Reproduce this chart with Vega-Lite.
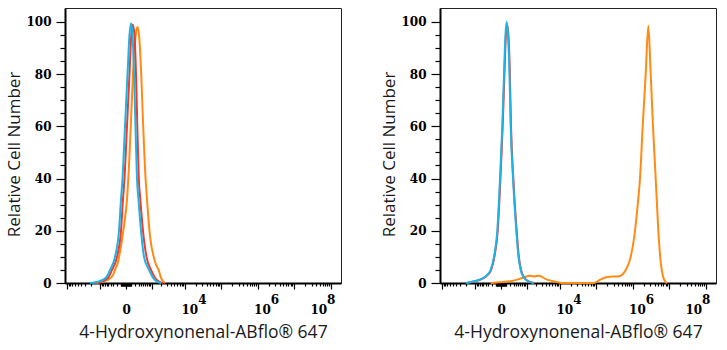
{
  "$schema": "https://vega.github.io/schema/vega-lite/v6.json",
  "padding": {"left": 5, "top": 7, "right": 2, "bottom": 5},
  "background": "white",
  "spacing": 36,
  "config": {
    "view": {"stroke": "#222", "strokeWidth": 1},
    "axis": {
      "grid": false,
      "domainColor": "black",
      "domainWidth": 2,
      "tickColor": "black",
      "tickWidth": 1.2,
      "labelFont": "DejaVu Serif",
      "labelFontWeight": "bold",
      "labelFontSize": 12,
      "labelColor": "black",
      "labelOverlap": false,
      "labelFlush": false,
      "titleFont": "Open Sans",
      "titleFontWeight": "normal",
      "titleColor": "#1a1a1a"
    }
  },
  "data": {
    "values": [
      {"p": "A", "s": "4-HNE antibody", "x": -1399, "y": 0},
      {"p": "A", "s": "4-HNE antibody", "x": -879, "y": 0.5},
      {"p": "A", "s": "4-HNE antibody", "x": -476, "y": 1.5},
      {"p": "A", "s": "4-HNE antibody", "x": -315, "y": 3},
      {"p": "A", "s": "4-HNE antibody", "x": -248, "y": 5},
      {"p": "A", "s": "4-HNE antibody", "x": -163, "y": 8},
      {"p": "A", "s": "4-HNE antibody", "x": -107, "y": 12.6},
      {"p": "A", "s": "4-HNE antibody", "x": -33, "y": 22},
      {"p": "A", "s": "4-HNE antibody", "x": 16, "y": 32},
      {"p": "A", "s": "4-HNE antibody", "x": 52, "y": 45},
      {"p": "A", "s": "4-HNE antibody", "x": 92, "y": 62},
      {"p": "A", "s": "4-HNE antibody", "x": 138, "y": 80},
      {"p": "A", "s": "4-HNE antibody", "x": 190, "y": 92},
      {"p": "A", "s": "4-HNE antibody", "x": 233, "y": 97},
      {"p": "A", "s": "4-HNE antibody", "x": 271, "y": 98},
      {"p": "A", "s": "4-HNE antibody", "x": 315, "y": 95},
      {"p": "A", "s": "4-HNE antibody", "x": 391, "y": 82},
      {"p": "A", "s": "4-HNE antibody", "x": 476, "y": 62},
      {"p": "A", "s": "4-HNE antibody", "x": 574, "y": 44},
      {"p": "A", "s": "4-HNE antibody", "x": 685, "y": 32},
      {"p": "A", "s": "4-HNE antibody", "x": 879, "y": 18},
      {"p": "A", "s": "4-HNE antibody", "x": 1175, "y": 10},
      {"p": "A", "s": "4-HNE antibody", "x": 1399, "y": 7},
      {"p": "A", "s": "4-HNE antibody", "x": 1704, "y": 5},
      {"p": "A", "s": "4-HNE antibody", "x": 2008, "y": 2},
      {"p": "A", "s": "4-HNE antibody", "x": 2312, "y": 0.7},
      {"p": "A", "s": "4-HNE antibody", "x": 2656, "y": 0},

      {"p": "A", "s": "Isotype control", "x": -1741, "y": 0},
      {"p": "A", "s": "Isotype control", "x": -953, "y": 0.5},
      {"p": "A", "s": "Isotype control", "x": -524, "y": 2},
      {"p": "A", "s": "Isotype control", "x": -352, "y": 5},
      {"p": "A", "s": "Isotype control", "x": -190, "y": 10},
      {"p": "A", "s": "Isotype control", "x": -92, "y": 20},
      {"p": "A", "s": "Isotype control", "x": -52, "y": 32},
      {"p": "A", "s": "Isotype control", "x": -25, "y": 40},
      {"p": "A", "s": "Isotype control", "x": 16, "y": 60},
      {"p": "A", "s": "Isotype control", "x": 61, "y": 80},
      {"p": "A", "s": "Isotype control", "x": 98, "y": 95},
      {"p": "A", "s": "Isotype control", "x": 130, "y": 99},
      {"p": "A", "s": "Isotype control", "x": 176, "y": 95},
      {"p": "A", "s": "Isotype control", "x": 218, "y": 80},
      {"p": "A", "s": "Isotype control", "x": 258, "y": 60},
      {"p": "A", "s": "Isotype control", "x": 308, "y": 40},
      {"p": "A", "s": "Isotype control", "x": 363, "y": 32},
      {"p": "A", "s": "Isotype control", "x": 476, "y": 20},
      {"p": "A", "s": "Isotype control", "x": 656, "y": 10},
      {"p": "A", "s": "Isotype control", "x": 953, "y": 5},
      {"p": "A", "s": "Isotype control", "x": 1297, "y": 2},
      {"p": "A", "s": "Isotype control", "x": 1741, "y": 0.5},
      {"p": "A", "s": "Isotype control", "x": 2312, "y": 0},

      {"p": "A", "s": "Blank control", "x": -2155, "y": 0},
      {"p": "A", "s": "Blank control", "x": -1203, "y": 0.5},
      {"p": "A", "s": "Blank control", "x": -628, "y": 2},
      {"p": "A", "s": "Blank control", "x": -432, "y": 5},
      {"p": "A", "s": "Blank control", "x": -248, "y": 10},
      {"p": "A", "s": "Blank control", "x": -138, "y": 20},
      {"p": "A", "s": "Blank control", "x": -92, "y": 32},
      {"p": "A", "s": "Blank control", "x": -61, "y": 40},
      {"p": "A", "s": "Blank control", "x": -16, "y": 60},
      {"p": "A", "s": "Blank control", "x": 25, "y": 80},
      {"p": "A", "s": "Blank control", "x": 61, "y": 95},
      {"p": "A", "s": "Blank control", "x": 92, "y": 99.5},
      {"p": "A", "s": "Blank control", "x": 126, "y": 95},
      {"p": "A", "s": "Blank control", "x": 163, "y": 80},
      {"p": "A", "s": "Blank control", "x": 203, "y": 60},
      {"p": "A", "s": "Blank control", "x": 248, "y": 40},
      {"p": "A", "s": "Blank control", "x": 297, "y": 32},
      {"p": "A", "s": "Blank control", "x": 391, "y": 20},
      {"p": "A", "s": "Blank control", "x": 524, "y": 10},
      {"p": "A", "s": "Blank control", "x": 811, "y": 5},
      {"p": "A", "s": "Blank control", "x": 1114, "y": 2},
      {"p": "A", "s": "Blank control", "x": 1505, "y": 0.5},
      {"p": "A", "s": "Blank control", "x": 2008, "y": 0},

      {"p": "B", "s": "4-HNE antibody", "x": -227, "y": 0},
      {"p": "B", "s": "4-HNE antibody", "x": -33, "y": 0.3},
      {"p": "B", "s": "4-HNE antibody", "x": 248, "y": 0.8},
      {"p": "B", "s": "4-HNE antibody", "x": 524, "y": 1.5},
      {"p": "B", "s": "4-HNE antibody", "x": 930, "y": 2.4},
      {"p": "B", "s": "4-HNE antibody", "x": 1203, "y": 2.8},
      {"p": "B", "s": "4-HNE antibody", "x": 1741, "y": 2.5},
      {"p": "B", "s": "4-HNE antibody", "x": 2478, "y": 2.8},
      {"p": "B", "s": "4-HNE antibody", "x": 3913, "y": 1.5},
      {"p": "B", "s": "4-HNE antibody", "x": 5945, "y": 0.8},
      {"p": "B", "s": "4-HNE antibody", "x": 9375, "y": 0.2},
      {"p": "B", "s": "4-HNE antibody", "x": 11380, "y": 0},
      {"p": "B", "s": "4-HNE antibody", "x": 87300, "y": 0},
      {"p": "B", "s": "4-HNE antibody", "x": 119800, "y": 1},
      {"p": "B", "s": "4-HNE antibody", "x": 202400, "y": 2.3},
      {"p": "B", "s": "4-HNE antibody", "x": 424000, "y": 2.6},
      {"p": "B", "s": "4-HNE antibody", "x": 647000, "y": 5},
      {"p": "B", "s": "4-HNE antibody", "x": 886000, "y": 10},
      {"p": "B", "s": "4-HNE antibody", "x": 1163000, "y": 20},
      {"p": "B", "s": "4-HNE antibody", "x": 1379000, "y": 30},
      {"p": "B", "s": "4-HNE antibody", "x": 1594000, "y": 40},
      {"p": "B", "s": "4-HNE antibody", "x": 1890000, "y": 60},
      {"p": "B", "s": "4-HNE antibody", "x": 2282000, "y": 80},
      {"p": "B", "s": "4-HNE antibody", "x": 2693000, "y": 98.5},
      {"p": "B", "s": "4-HNE antibody", "x": 3130000, "y": 80},
      {"p": "B", "s": "4-HNE antibody", "x": 3618000, "y": 60},
      {"p": "B", "s": "4-HNE antibody", "x": 4290000, "y": 40},
      {"p": "B", "s": "4-HNE antibody", "x": 5064000, "y": 20},
      {"p": "B", "s": "4-HNE antibody", "x": 5883000, "y": 8},
      {"p": "B", "s": "4-HNE antibody", "x": 6800000, "y": 2.5},
      {"p": "B", "s": "4-HNE antibody", "x": 8062000, "y": 0.3},
      {"p": "B", "s": "4-HNE antibody", "x": 8920000, "y": 0},

      {"p": "B", "s": "Isotype control", "x": -1900, "y": 0},
      {"p": "B", "s": "Isotype control", "x": -1230, "y": 0.5},
      {"p": "B", "s": "Isotype control", "x": -600, "y": 1.5},
      {"p": "B", "s": "Isotype control", "x": -335, "y": 3},
      {"p": "B", "s": "Isotype control", "x": -215, "y": 5},
      {"p": "B", "s": "Isotype control", "x": -128, "y": 10},
      {"p": "B", "s": "Isotype control", "x": -57, "y": 20},
      {"p": "B", "s": "Isotype control", "x": -9, "y": 40},
      {"p": "B", "s": "Isotype control", "x": 28, "y": 60},
      {"p": "B", "s": "Isotype control", "x": 60, "y": 80},
      {"p": "B", "s": "Isotype control", "x": 90, "y": 95},
      {"p": "B", "s": "Isotype control", "x": 116, "y": 99},
      {"p": "B", "s": "Isotype control", "x": 148, "y": 95},
      {"p": "B", "s": "Isotype control", "x": 186, "y": 80},
      {"p": "B", "s": "Isotype control", "x": 219, "y": 60},
      {"p": "B", "s": "Isotype control", "x": 292, "y": 40},
      {"p": "B", "s": "Isotype control", "x": 418, "y": 20},
      {"p": "B", "s": "Isotype control", "x": 518, "y": 10},
      {"p": "B", "s": "Isotype control", "x": 630, "y": 5},
      {"p": "B", "s": "Isotype control", "x": 835, "y": 2},
      {"p": "B", "s": "Isotype control", "x": 1235, "y": 0.5},
      {"p": "B", "s": "Isotype control", "x": 1780, "y": 0},

      {"p": "B", "s": "Blank control", "x": -2008, "y": 0},
      {"p": "B", "s": "Blank control", "x": -1297, "y": 0.5},
      {"p": "B", "s": "Blank control", "x": -628, "y": 1.5},
      {"p": "B", "s": "Blank control", "x": -352, "y": 3},
      {"p": "B", "s": "Blank control", "x": -227, "y": 5},
      {"p": "B", "s": "Blank control", "x": -138, "y": 10},
      {"p": "B", "s": "Blank control", "x": -65, "y": 20},
      {"p": "B", "s": "Blank control", "x": -16, "y": 40},
      {"p": "B", "s": "Blank control", "x": 21, "y": 60},
      {"p": "B", "s": "Blank control", "x": 52, "y": 80},
      {"p": "B", "s": "Blank control", "x": 81, "y": 95},
      {"p": "B", "s": "Blank control", "x": 107, "y": 100},
      {"p": "B", "s": "Blank control", "x": 138, "y": 95},
      {"p": "B", "s": "Blank control", "x": 176, "y": 80},
      {"p": "B", "s": "Blank control", "x": 209, "y": 60},
      {"p": "B", "s": "Blank control", "x": 281, "y": 40},
      {"p": "B", "s": "Blank control", "x": 403, "y": 20},
      {"p": "B", "s": "Blank control", "x": 500, "y": 10},
      {"p": "B", "s": "Blank control", "x": 611, "y": 5},
      {"p": "B", "s": "Blank control", "x": 811, "y": 2},
      {"p": "B", "s": "Blank control", "x": 1203, "y": 0.5},
      {"p": "B", "s": "Blank control", "x": 1741, "y": 0}
    ]
  },
  "hconcat": [
    {
      "width": 276,
      "height": 275,
      "transform": [{"filter": "datum.p === 'A'"}],
      "mark": {"type": "line", "strokeWidth": 2, "interpolate": "monotone"},
      "encoding": {
        "x": {
          "field": "x", "type": "quantitative",
          "scale": {"type": "symlog", "constant": 248, "domain": [-11380, 192500000], "nice": false},
          "axis": {
            "title": "4-Hydroxynonenal-ABflo® 647",
            "titleFontSize": 17.5,
            "values": [-10000,-9000,-8000,-7000,-6000,-5000,-4000,-3000,-2000,-1000,-900,-800,-700,-600,-500,-400,-300,-200,-100,-90,-80,-70,-60,-50,-40,-30,-20,-10,0,10,20,30,40,50,60,70,80,90,100,200,300,400,500,600,700,800,900,1000,2000,3000,4000,5000,6000,7000,8000,9000,10000,20000,30000,40000,50000,60000,70000,80000,90000,100000,200000,300000,400000,500000,600000,700000,800000,900000,1000000,2000000,3000000,4000000,5000000,6000000,7000000,8000000,9000000,10000000,20000000,30000000,40000000,50000000,60000000,70000000,80000000,90000000,100000000],
            "labelExpr": "datum.value === 0 ? ['\u200b', '0'] : datum.value === 10000 ? ['\u200b\u00a0\u00a0\u00a0\u00a04', '10'] : datum.value === 1000000 ? ['\u200b\u00a0\u00a0\u00a0\u00a06', '10'] : datum.value === 100000000 ? ['\u200b\u00a0\u00a08', '10\u00a0\u00a0\u00a0\u00a0\u200b'] : ''",
            "labelAlign": {"condition": {"test": "datum.value === 100000000", "value": "center"}, "value": "left"},
            "labelOffset": -4,
            "labelLineHeight": 10,
            "labelPadding": 5,
            "tickSize": {"condition": {"test": "indexof([0,1000,-1000,10000,-10000,100000,1000000,10000000,100000000], datum.value) >= 0", "value": 6}, "value": 3},
            "titlePadding": 8
          }
        },
        "y": {
          "field": "y", "type": "quantitative",
          "scale": {"domain": [0, 105.3], "nice": false},
          "axis": {
            "title": "Relative Cell Number",
            "titleFontSize": 17,
            "titleY": 146,
            "values": [0,5,10,15,20,25,30,35,40,45,50,55,60,65,70,75,80,85,90,95,100],
            "labelExpr": "datum.value % 20 === 0 ? datum.label : ''",
            "tickSize": {"condition": {"test": "datum.value % 20 === 0", "value": 9}, "value": 5},
            "labelPadding": 5,
            "titlePadding": 2
          }
        },
        "color": {
          "field": "s", "type": "nominal",
          "scale": {"domain": ["4-HNE antibody", "Isotype control", "Blank control"], "range": ["#FF8A14", "#EE3B2E", "#1CB4E8"]},
          "legend": null
        }
      }
    },
    {
      "width": 276,
      "height": 275,
      "transform": [{"filter": "datum.p === 'B'"}],
      "mark": {"type": "line", "strokeWidth": 2, "interpolate": "monotone"},
      "encoding": {
        "x": {
          "field": "x", "type": "quantitative",
          "scale": {"type": "symlog", "constant": 248, "domain": [-11380, 192500000], "nice": false},
          "axis": {
            "title": "4-Hydroxynonenal-ABflo® 647",
            "titleFontSize": 17.5,
            "values": [-10000,-9000,-8000,-7000,-6000,-5000,-4000,-3000,-2000,-1000,-900,-800,-700,-600,-500,-400,-300,-200,-100,-90,-80,-70,-60,-50,-40,-30,-20,-10,0,10,20,30,40,50,60,70,80,90,100,200,300,400,500,600,700,800,900,1000,2000,3000,4000,5000,6000,7000,8000,9000,10000,20000,30000,40000,50000,60000,70000,80000,90000,100000,200000,300000,400000,500000,600000,700000,800000,900000,1000000,2000000,3000000,4000000,5000000,6000000,7000000,8000000,9000000,10000000,20000000,30000000,40000000,50000000,60000000,70000000,80000000,90000000,100000000],
            "labelExpr": "datum.value === 0 ? ['\u200b', '0'] : datum.value === 10000 ? ['\u200b\u00a0\u00a0\u00a0\u00a04', '10'] : datum.value === 1000000 ? ['\u200b\u00a0\u00a0\u00a0\u00a06', '10'] : datum.value === 100000000 ? ['\u200b\u00a0\u00a08', '10\u00a0\u00a0\u00a0\u00a0\u200b'] : ''",
            "labelAlign": {"condition": {"test": "datum.value === 100000000", "value": "center"}, "value": "left"},
            "labelOffset": -4,
            "labelLineHeight": 10,
            "labelPadding": 5,
            "tickSize": {"condition": {"test": "indexof([0,1000,-1000,10000,-10000,100000,1000000,10000000,100000000], datum.value) >= 0", "value": 6}, "value": 3},
            "titlePadding": 8
          }
        },
        "y": {
          "field": "y", "type": "quantitative",
          "scale": {"domain": [0, 105.3], "nice": false},
          "axis": {
            "title": "Relative Cell Number",
            "titleFontSize": 17,
            "titleY": 146,
            "values": [0,5,10,15,20,25,30,35,40,45,50,55,60,65,70,75,80,85,90,95,100],
            "labelExpr": "datum.value % 20 === 0 ? datum.label : ''",
            "tickSize": {"condition": {"test": "datum.value % 20 === 0", "value": 9}, "value": 5},
            "labelPadding": 5,
            "titlePadding": 2
          }
        },
        "color": {
          "field": "s", "type": "nominal",
          "scale": {"domain": ["4-HNE antibody", "Isotype control", "Blank control"], "range": ["#FF8A14", "#EE3B2E", "#1CB4E8"]},
          "legend": null
        }
      }
    }
  ]
}
